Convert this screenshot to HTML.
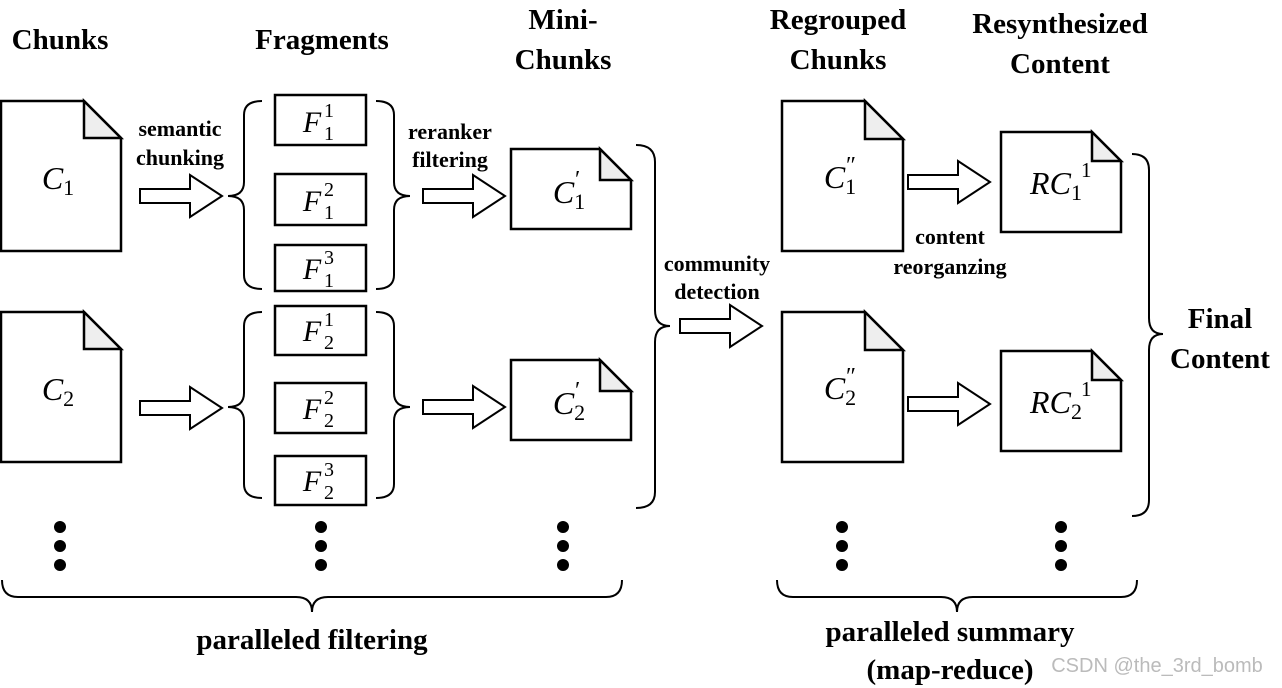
<!DOCTYPE html>
<html><head><meta charset="utf-8"><style>
html,body{margin:0;padding:0;background:#fff;}
svg{display:block}
.t{font-family:"Liberation Serif",serif;font-weight:bold;fill:#000;text-anchor:middle}
.m{font-family:"Liberation Serif",serif;font-style:italic;fill:#000;text-anchor:middle}
.s{font-family:"Liberation Serif",serif;fill:#000}
</style></head><body>
<svg width="1282" height="688" viewBox="0 0 1282 688" xmlns="http://www.w3.org/2000/svg">
<defs>
<g id="arr"><path d="M0,-7 H50 V-21 L82,0 L50,21 V7 H0 Z" fill="#fff" stroke="#000" stroke-width="2"/></g>
</defs>
<g fill="#fff" stroke="#000" stroke-width="2.5">
<path d="M1,101 H84 L121,138 V251 H1 Z"/><path d="M84,101 V138 H121 Z" fill="#eee"/>
<path d="M1,312 H84 L121,349 V462 H1 Z"/><path d="M84,312 V349 H121 Z" fill="#eee"/>
<path d="M511,149 H600 L631,180 V229 H511 Z"/><path d="M600,149 V180 H631 Z" fill="#eee"/>
<path d="M511,360 H600 L631,391 V440 H511 Z"/><path d="M600,360 V391 H631 Z" fill="#eee"/>
<path d="M782,101 H865 L903,139 V251 H782 Z"/><path d="M865,101 V139 H903 Z" fill="#eee"/>
<path d="M782,312 H865 L903,350 V462 H782 Z"/><path d="M865,312 V350 H903 Z" fill="#eee"/>
<path d="M1001,132 H1092 L1121,161 V232 H1001 Z"/><path d="M1092,132 V161 H1121 Z" fill="#eee"/>
<path d="M1001,351 H1092 L1121,380 V451 H1001 Z"/><path d="M1092,351 V380 H1121 Z" fill="#eee"/>
<rect x="275" y="95" width="91" height="50"/><rect x="275" y="174" width="91" height="51"/><rect x="275" y="245" width="91" height="46"/>
<rect x="275" y="306" width="91" height="49"/><rect x="275" y="383" width="91" height="50"/><rect x="275" y="456" width="91" height="49"/>
</g>
<g fill="none" stroke="#000" stroke-width="2">
<path d="M262,101 Q244,101 244,115 V182 Q244,196 228,196 Q244,196 244,210 V275 Q244,289 262,289"/>
<path d="M262,312 Q244,312 244,326 V393 Q244,407 228,407 Q244,407 244,421 V484 Q244,498 262,498"/>
<path d="M376,101 Q394,101 394,115 V182 Q394,196 410,196 Q394,196 394,210 V275 Q394,289 376,289"/>
<path d="M376,312 Q394,312 394,326 V393 Q394,407 410,407 Q394,407 394,421 V484 Q394,498 376,498"/>
<path d="M636,145 Q655,145 655,162 V310 Q655,326 670,326 Q655,326 655,342 V492 Q655,508 636,508"/>
<path d="M1132,154 Q1149,154 1149,170 V318 Q1149,334 1163,334 Q1149,334 1149,350 V500 Q1149,516 1132,516"/>
<path d="M2,580 Q2,597 18,597 H296 Q312,597 312,612 Q312,597 328,597 H606 Q622,597 622,580"/>
<path d="M777,580 Q777,597 793,597 H941 Q957,597 957,612 Q957,597 973,597 H1121 Q1137,597 1137,580"/>
</g>
<use href="#arr" x="140" y="196"/><use href="#arr" x="140" y="408"/>
<use href="#arr" x="423" y="196"/><use href="#arr" x="423" y="407"/>
<use href="#arr" x="680" y="326"/>
<use href="#arr" x="908" y="182"/><use href="#arr" x="908" y="404"/>
<g fill="#000">
<circle cx="60" cy="527" r="6"/><circle cx="60" cy="546" r="6"/><circle cx="60" cy="565" r="6"/>
<circle cx="321" cy="527" r="6"/><circle cx="321" cy="546" r="6"/><circle cx="321" cy="565" r="6"/>
<circle cx="563" cy="527" r="6"/><circle cx="563" cy="546" r="6"/><circle cx="563" cy="565" r="6"/>
<circle cx="842" cy="527" r="6"/><circle cx="842" cy="546" r="6"/><circle cx="842" cy="565" r="6"/>
<circle cx="1061" cy="527" r="6"/><circle cx="1061" cy="546" r="6"/><circle cx="1061" cy="565" r="6"/>
</g>
<g class="t" font-size="29">
<text x="60" y="49">Chunks</text><text x="322" y="49">Fragments</text>
<text x="563" y="29">Mini-</text><text x="563" y="69">Chunks</text>
<text x="838" y="29">Regrouped</text><text x="838" y="69">Chunks</text>
<text x="1060" y="33">Resynthesized</text><text x="1060" y="73">Content</text>
<text x="1220" y="328">Final</text><text x="1220" y="368">Content</text>
<text x="312" y="649">paralleled filtering</text>
<text x="950" y="641">paralleled summary</text><text x="950" y="679">(map-reduce)</text>
</g>
<g class="t" font-size="22">
<text x="180" y="136">semantic</text><text x="180" y="165">chunking</text>
<text x="450" y="139">reranker</text><text x="450" y="167">filtering</text>
<text x="717" y="271">community</text><text x="717" y="299">detection</text>
<text x="950" y="244">content</text><text x="950" y="274">reorganzing</text>
</g>
<g class="m" font-size="32">
<text x="58" y="189">C<tspan class="s" font-style="normal" font-size="22" dy="6">1</tspan></text>
<text x="58" y="400">C<tspan class="s" font-style="normal" font-size="22" dy="6">2</tspan></text>
<text x="569" y="203">C<tspan class="s" font-style="normal" font-size="22" dy="6">1</tspan></text>
<text x="569" y="414">C<tspan class="s" font-style="normal" font-size="22" dy="6">2</tspan></text>
<text x="840" y="188">C<tspan class="s" font-style="normal" font-size="22" dy="6">1</tspan></text>
<text x="840" y="399">C<tspan class="s" font-style="normal" font-size="22" dy="6">2</tspan></text>
<text x="1056" y="194">RC<tspan class="s" font-style="normal" font-size="22" dy="6">1</tspan></text>
<text x="1056" y="413">RC<tspan class="s" font-style="normal" font-size="22" dy="6">2</tspan></text>
</g>
<g class="s" font-size="24">
<text x="575" y="187">′</text><text x="575" y="398">′</text>
<text x="846" y="173">″</text><text x="846" y="384">″</text>
<text x="1081" y="177" font-size="21">1</text><text x="1081" y="396" font-size="21">1</text>
</g>
<g class="m" font-size="30">
<text x="312" y="132">F</text><text x="312" y="211">F</text><text x="312" y="279">F</text>
<text x="312" y="341">F</text><text x="312" y="419">F</text><text x="312" y="491">F</text>
</g>
<g class="s" font-size="20">
<text x="324" y="117">1</text><text x="324" y="140">1</text>
<text x="324" y="196">2</text><text x="324" y="219">1</text>
<text x="324" y="264">3</text><text x="324" y="287">1</text>
<text x="324" y="326">1</text><text x="324" y="349">2</text>
<text x="324" y="404">2</text><text x="324" y="427">2</text>
<text x="324" y="476">3</text><text x="324" y="499">2</text>
</g>
<text x="1157" y="672" text-anchor="middle" font-family="Liberation Sans,sans-serif" font-size="20" fill="#bbb">CSDN @the_3rd_bomb</text>
</svg>
</body></html>
